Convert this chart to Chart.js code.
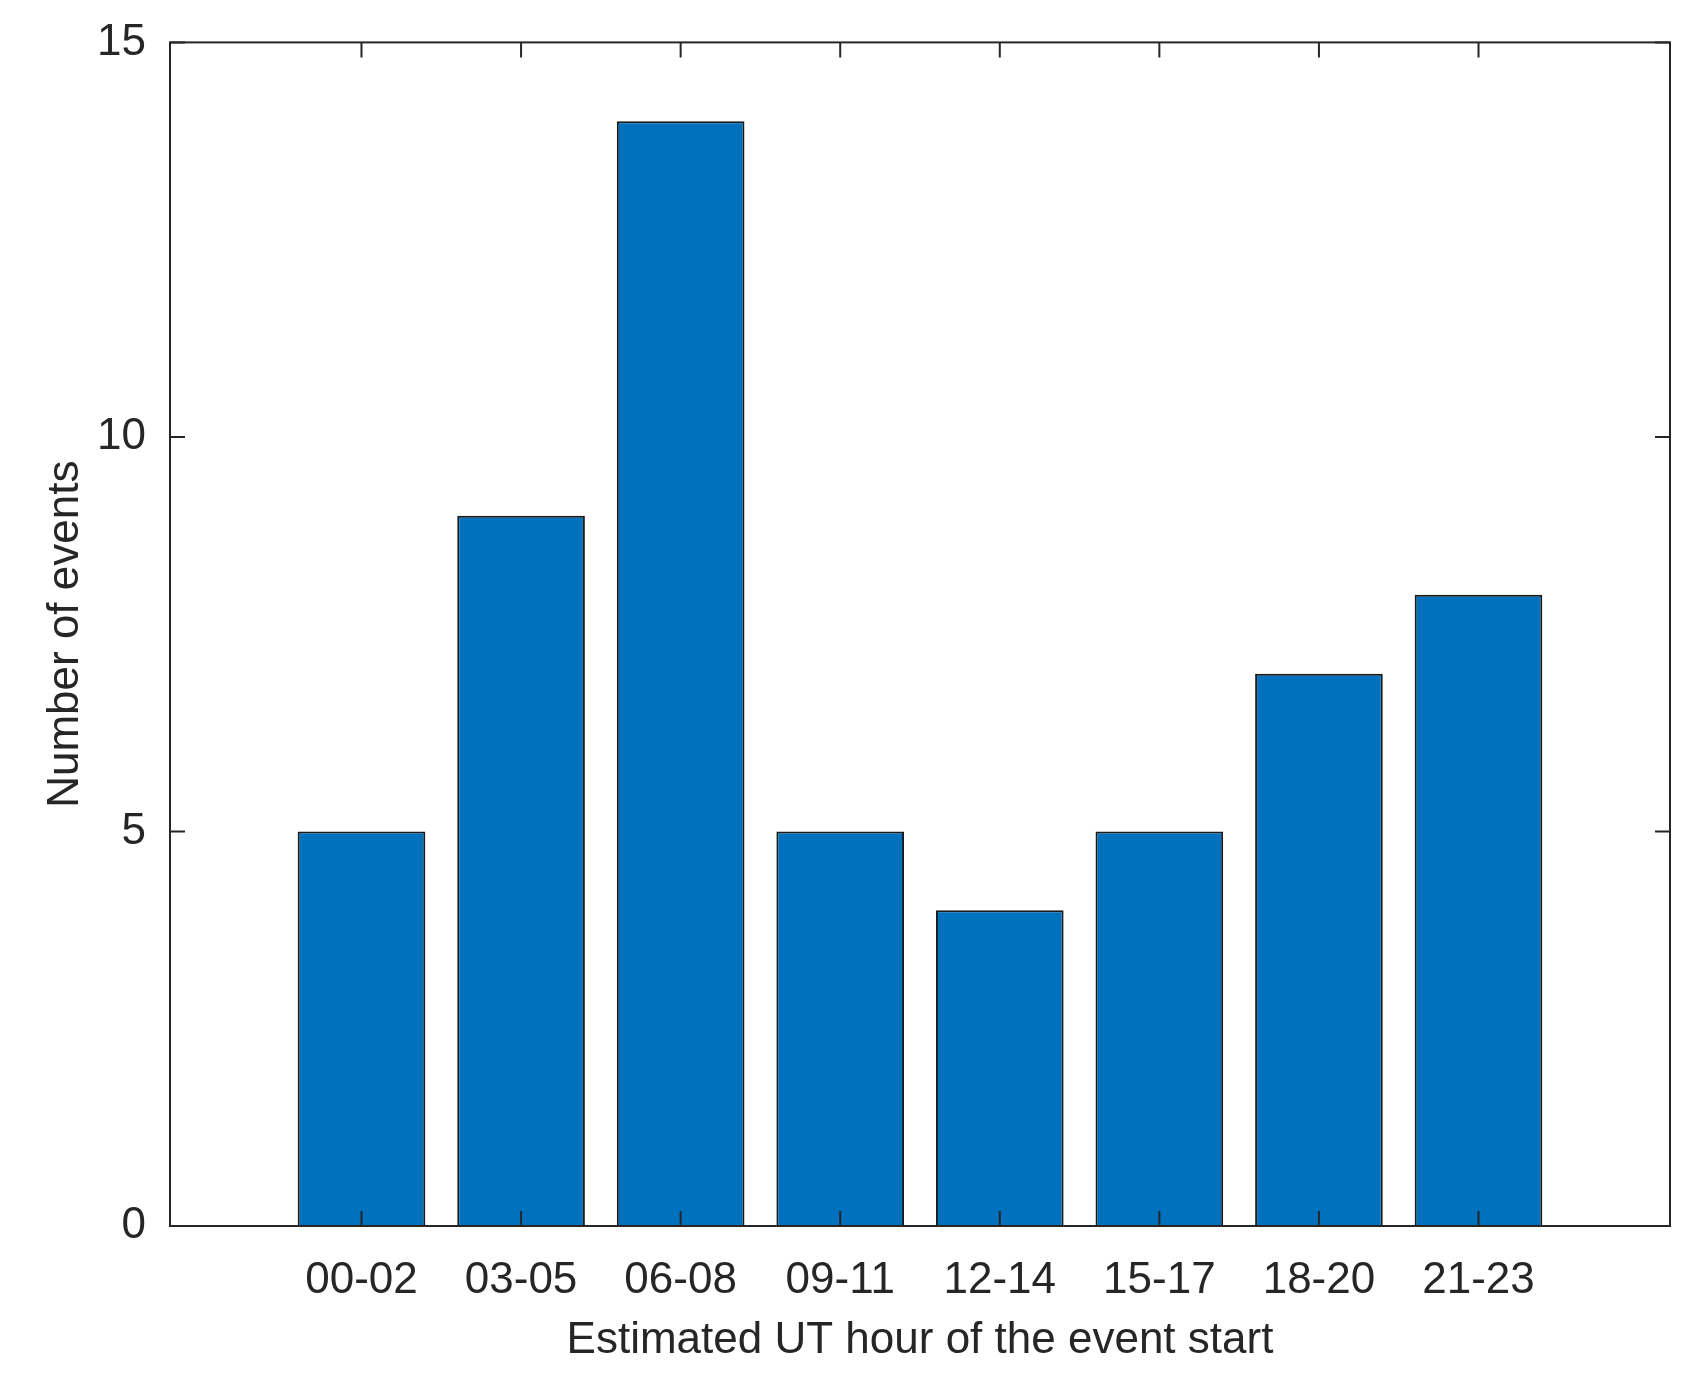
<!DOCTYPE html>
<html><head><script src="https://cdn.jsdelivr.net/npm/chart.js@4"></script>
<style>body{margin:0;background:#fff}#w{width:1700px;height:1389px}</style></head>
<body><div id="w"><canvas id="c"></canvas></div>
<script>
const categories=["00-02","03-05","06-08","09-11","12-14","15-17","18-20","21-23"];
const counts=[5,9,14,5,4,5,7,8];
const yTicks=[0,5,10,15];
const F='"Liberation Sans", Arial, sans-serif';
const frame={id:'frame',afterDraw(ch){const {ctx,chartArea:a,scales:{x,y}}=ch;ctx.save();ctx.strokeStyle='#262626';ctx.lineWidth=2;
ctx.strokeRect(a.left,a.top,a.right-a.left,a.bottom-a.top);const L=15;ctx.beginPath();
yTicks.forEach(t=>{const p=y.getPixelForValue(t);ctx.moveTo(a.left,p);ctx.lineTo(a.left+L,p);ctx.moveTo(a.right,p);ctx.lineTo(a.right-L,p);});
categories.forEach((c,i)=>{const p=x.getPixelForValue(i);ctx.moveTo(p,a.bottom);ctx.lineTo(p,a.bottom-L);ctx.moveTo(p,a.top);ctx.lineTo(p,a.top+L);});
ctx.stroke();ctx.restore();}};
new Chart(document.getElementById('c'),{type:'bar',
data:{datasets:[{data:counts.map((v,i)=>({x:i,y:v})),backgroundColor:'#0072BD',borderColor:'#1a1a1a',borderWidth:2,barPercentage:0.8,categoryPercentage:1}]},
options:{responsive:true,maintainAspectRatio:false,animation:false,
layout:{padding:{top:41,right:30,left:35,bottom:18}},
plugins:{legend:{display:false},tooltip:{enabled:false}},
scales:{
x:{type:'linear',offset:false,min:-1.2,max:8.2,grid:{display:false},border:{display:false},
afterBuildTicks(s){s.ticks=categories.map((c,i)=>({value:i}));},afterFit(s){s.height=145;},
ticks:{autoSkip:false,maxRotation:0,padding:20,color:'#262626',font:{family:F,size:44},callback:v=>categories[v]},
title:{display:true,text:'Estimated UT hour of the event start',color:'#262626',font:{family:F,size:44},padding:{top:0}}},
y:{min:0,max:15,grid:{display:false},border:{display:false},
afterBuildTicks(s){s.ticks=yTicks.map(v=>({value:v}));},afterFit(s){s.width=135;},
ticks:{padding:16,color:'#262626',font:{family:F,size:44}},
title:{display:true,text:'Number of events',color:'#262626',font:{family:F,size:44},padding:{bottom:0}}}}},
plugins:[frame]});
</script></body></html>
